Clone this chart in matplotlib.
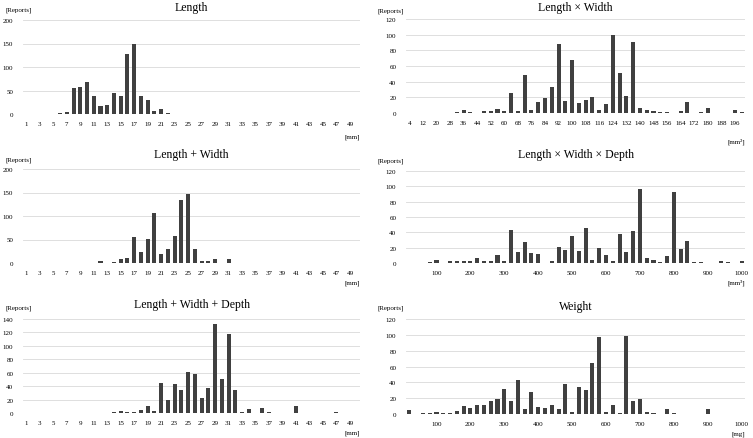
import numpy as np
import matplotlib
matplotlib.use("Agg")
import matplotlib.pyplot as plt

plt.rcParams['font.family'] = ['Liberation Serif', 'DejaVu Serif']

# ---- data ----
mm_bins = list(range(1, 51))
length_counts = [0, 0, 0, 0, 0, 2, 4, 55, 58, 69,
                 38, 17, 19, 45, 38, 127, 149, 38, 30, 7,
                 11, 2, 0, 0, 0, 0, 0, 0, 0, 0,
                 0, 0, 0, 0, 0, 0, 0, 0, 0, 0,
                 0, 0, 0, 0, 0, 0, 0, 0, 0, 0]
lw_sum_counts = [0, 0, 0, 0, 0, 0, 0, 0, 0, 0,
                 0, 5, 0, 3, 8, 11, 55, 24, 51, 107,
                 19, 30, 57, 134, 146, 29, 5, 5, 8, 1,
                 9, 0, 0, 0, 0, 0, 0, 0, 0, 0,
                 1, 0, 0, 0, 0, 0, 0, 0, 0, 0]
lwd_sum_counts = [0, 0, 0, 0, 0, 0, 0, 0, 0, 0,
                  0, 0, 0, 1, 3, 1, 1, 4, 10, 3,
                  44, 20, 43, 34, 61, 58, 23, 37, 133, 51,
                  118, 34, 1, 6, 0, 7, 2, 0, 0, 0,
                  10, 0, 0, 0, 0, 0, 1, 0, 0, 0]

area_bins = list(range(4, 201, 4))
area_counts = [0, 0, 0, 0, 0, 0, 0, 1, 4, 1,
               0, 3, 2, 5, 2, 26, 3, 48, 4, 14,
               19, 33, 88, 15, 68, 13, 17, 20, 4, 11,
               99, 51, 22, 91, 7, 4, 2, 1, 1, 0,
               2, 14, 0, 1, 7, 0, 0, 0, 4, 1]

vol_bins = list(range(20, 1001, 20))
volume_counts = [0, 0, 0, 1, 4, 0, 2, 2, 2, 2,
                 7, 2, 2, 10, 2, 43, 15, 27, 13, 12,
                 0, 2, 21, 17, 35, 16, 46, 4, 20, 10,
                 2, 38, 14, 42, 96, 7, 4, 1, 9, 92,
                 18, 29, 1, 1, 0, 0, 2, 1, 0, 2]

weight_bins = list(range(20, 1001, 20))
weight_counts = [5, 0, 1, 1, 3, 1, 1, 4, 10, 7,
                 12, 11, 16, 19, 31, 16, 43, 6, 28, 9,
                 7, 12, 6, 38, 3, 34, 30, 65, 97, 2,
                 12, 1, 99, 16, 19, 2, 1, 0, 6, 1,
                 0, 0, 0, 0, 6, 0, 0, 0, 0, 0]

W, H = 753, 439
BAR = '#404040'
GRID = '#d9d9d9'

fig = plt.figure(figsize=(W / 100, H / 100), dpi=100)


def px_axes(x0, x1, ytop, ybot):
    return fig.add_axes([x0 / W, 1 - ybot / H, (x1 - x0) / W, (ybot - ytop) / H])


def panel(x0, x1, ytop, ybot, bins, counts, ymax, ystep, label_every,
          title, title_y, unit, unit_y, rep_x, rep_y, first_label=0):
    ax = px_axes(x0, x1, ytop, ybot)
    pos = np.arange(len(bins))
    ax.bar(pos, counts, width=0.6, color=BAR, zorder=3)
    ax.set_xlim(-0.5, len(bins) - 0.5)
    ax.set_ylim(0, ymax)
    ax.set_yticks(np.arange(0, ymax + 1, ystep))
    ax.tick_params(axis='y', labelsize=5, length=0, pad=7)
    idx = list(range(first_label, len(bins), label_every))
    ax.set_xticks(idx)
    ax.set_xticklabels([str(bins[i]) for i in idx])
    ax.tick_params(axis='x', labelsize=5, length=0, pad=5)
    for s in ax.spines.values():
        s.set_visible(False)
    ax.grid(axis='y', color=GRID, lw=0.6, zorder=0)
    ax.set_axisbelow(True)
    fig.text((x0 + x1) / 2 / W, 1 - title_y / H, title, ha='center', va='center', fontsize=8.5)
    fig.text(x1 / W, 1 - unit_y / H, unit, ha='right', va='center', fontsize=5)
    fig.text(rep_x / W, 1 - rep_y / H, '[Reports]', ha='left', va='center', fontsize=5)
    return ax


panel(23, 360, 21, 115, mm_bins, length_counts, 200, 50, 2,
      'Length', 8, '[mm]', 137, 5, 10)
panel(406, 745, 20, 114, area_bins, area_counts, 120, 20, 2,
      'Length × Width', 8, '[mm²]', 142, 378, 11)
panel(23, 360, 170, 264, mm_bins, lw_sum_counts, 200, 50, 2,
      'Length + Width', 155, '[mm]', 283, 5, 160)
panel(406, 745, 172, 264, vol_bins, volume_counts, 120, 20, 5,
      'Length × Width × Depth', 155, '[mm³]', 283, 378, 161, first_label=4)
panel(23, 360, 320, 414, mm_bins, lwd_sum_counts, 140, 20, 2,
      'Length + Width + Depth', 305, '[mm]', 433, 5, 308)
panel(406, 745, 320, 415, weight_bins, weight_counts, 120, 20, 5,
      'Weight', 307, '[mg]', 434, 378, 308, first_label=4)

fig.savefig('out.png', dpi=100)
